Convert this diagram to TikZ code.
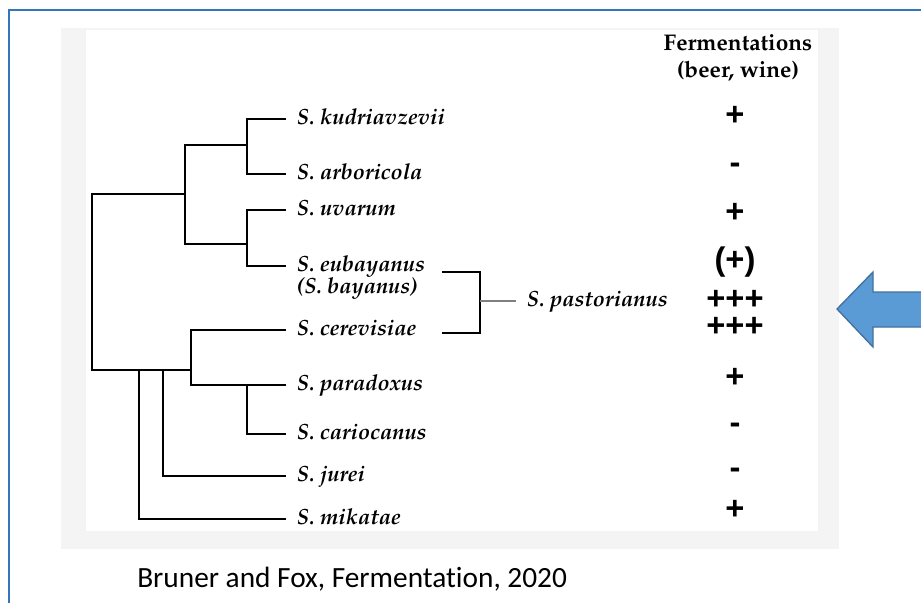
\documentclass[tikz,border=0pt]{standalone}
\usepackage[T1]{fontenc}
\usepackage{fontspec}
\newfontfamily\signfont{Liberation Sans}
\newfontfamily\capfont{Carlito}[Ligatures=NoCommon]
\newcommand\pal{\fontencoding{T1}\fontfamily{ppl}\selectfont}
\usetikzlibrary{positioning}
\definecolor{frameblue}{RGB}{52,118,188}
\definecolor{arrowfill}{RGB}{91,155,213}
\definecolor{arrowdraw}{RGB}{65,113,156}
\definecolor{panelgray}{RGB}{244,244,244}
\tikzset{
  leaf/.style={anchor=west, inner xsep=8pt, inner ysep=0pt, text height=9.5pt, text depth=1.5pt,
    font={\fontsize{16.5}{19}\pal\bfseries\itshape}},
  head/.style={align=center, inner sep=0pt, font={\fontsize{17}{20}\pal\bfseries}},
  score/.style={inner sep=0pt, align=center, font={\fontsize{24.5}{20.25}\signfont\bfseries}},
  credit/.style={anchor=base west, inner sep=0pt, font={\fontsize{22}{26}\capfont}},
  branch/.style={line width=2.1pt},
  stub/.style={line width=1.1pt, gray}
}
\begin{document}
\begin{tikzpicture}[x=.75pt, y=-.75pt]
  \useasboundingbox (0,0) rectangle (921,603);
  \clip (0,0) rectangle (921,603);
  % nền và khung
  \fill[panelgray] (61,28) rectangle (839,549);
  \fill[white] (86,30) rectangle (818,531);
  \draw[frameblue, line width=1.6pt] (921,10) -| (9,603);
  % các loài
  \foreach \n/\t/\y in {kud/kudriavzevii/119, arb/arboricola/174, uva/uvarum/210, eub/eubayanus/266,
      cer/cerevisiae/330, par/paradoxus/385, car/cariocanus/434, jur/jurei/476, mik/mikatae/519}
    \node[leaf] (\n) at (286,\y) {S. \t};
  \node[leaf, below right=5.5pt and 0pt of eub.south west] (bay) {(S. bayanus)};
  \node[leaf] (pas) at (516,301) {S. pastorianus};
  % cây
  \coordinate (k1) at (247,145); \coordinate (k2) at (247,244);
  \coordinate (k3) at (185,194); \coordinate (k4) at (92,282);
  \coordinate (k5) at (191,370); \coordinate (k6) at (247,385);
  \coordinate (k7) at (163,370); \coordinate (k8) at (139,370);
  \draw[branch] (kud.west) -| (k1) |- (arb.west);
  \draw[branch] (uva.west) -| (k2) |- (eub.west);
  \draw[branch] (k1) -| (k3) |- (k2);
  \draw[branch] (k3) -| (k4) |- (k5);
  \draw[branch] (cer.west) -| (k5) |- (par.west);
  \draw[branch] (k6) |- (car.west);
  \draw[branch] (k7) |- (jur.west);
  \draw[branch] (k8) |- (mik.west);
  % lai
  \coordinate (b1) at (442,272); \coordinate (b2) at (442,333); \coordinate (k9) at (480,301);
  \draw[branch] (b1) -| (k9) |- (b2);
  \draw[stub] (k9) -- (pas.west);
  % lên men
  \node[head] (ferm) at (738,58) {Fermentations\\(beer, wine)};
  \foreach \n/\v/\y in {skud/+/116, sarb/-/168, suva/+/213, seub/{(+)}/262, spar/+/378, scar/-/428, sjur/-/473, smik/+/510}
    \node[score] (\n) at (735,\y) {\v};
  \node[score] (spas) at (735,313.5) {+++\\+++};
  % mũi tên
  \draw[arrowdraw, fill=arrowfill, line width=1pt]
    (837,309) -- (873,272) -- (873,292) -- (935,292) -- (935,327) -- (873,327) -- (873,347) -- cycle;
  \node[credit] (cite) at (137,587) {Bruner and Fox, Fermentation, 2020};
\end{tikzpicture}
\end{document}
